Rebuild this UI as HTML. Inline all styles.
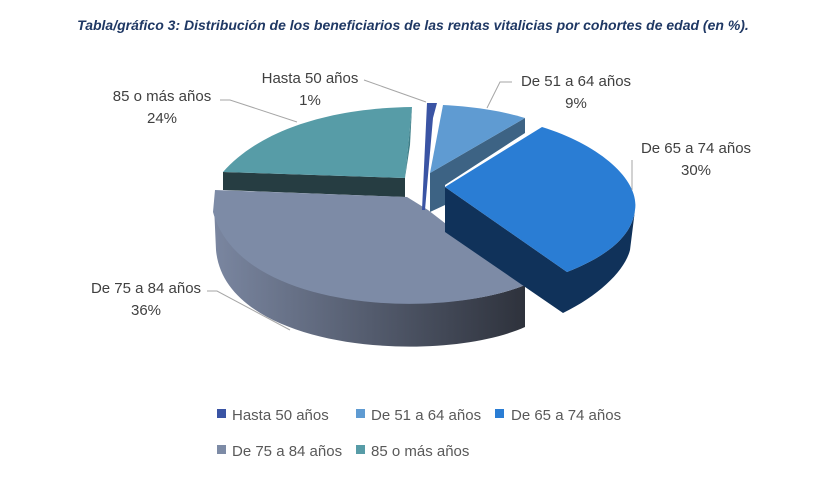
<!DOCTYPE html>
<html><head><meta charset="utf-8"><style>
body{margin:0;background:#fff}
svg text{font-family:"Liberation Sans",sans-serif}
</style></head><body>
<svg width="826" height="474" viewBox="0 0 826 474" xmlns="http://www.w3.org/2000/svg">
<defs>
<linearGradient id="g" x1="0" x2="1" y1="0" y2="0">
<stop offset="0" stop-color="#7a86a0"/><stop offset="1" stop-color="#2e323c"/></linearGradient>
</defs>
<text x="413" y="30" text-anchor="middle" font-size="14" font-style="italic" font-weight="bold" fill="#1f3864">Tabla/gráfico 3: Distribución de los beneficiarios de las rentas vitalicias por cohortes de edad (en %).</text>
<!-- teal -->
<path d="M223,172 L223,190 L405,197 L405,178 Z" fill="#263d42"/>
<path d="M405,178 L412,107 C330,108 260,130 223,172 Z" fill="#579ca7"/>
<path d="M405,178 L412,107 L410,145 Z" fill="#3f7f89"/>
<!-- grey -->
<path d="M214,205 C235,310 440,320 525,285 L525,327 C440,365 225,352 216,250 Z" fill="url(#g)"/>
<path d="M215,190 L407,197 L428,210 L525,285 C440,320 240,312 213,212 Z" fill="#7d8ba6"/>
<!-- light blue -->
<path d="M430,173 L525,118 L525,133 L445,185 L445,205 L430,212 Z" fill="#3d6384"/>
<path d="M430,173 L443,105 C480,107 505,112 525,118 Z" fill="#5f9bd2"/>
<!-- thin dark -->
<path d="M427,103 L437,103 L433,118 L425,210 L422,210 Z" fill="#3a54a4"/>
<!-- blue -->
<path d="M445,187 L445,232 L563,313 C600,295 625,270 630,250 L635,210 C632,235 610,255 567,272 Z" fill="#10325a"/>
<path d="M445,187 L542,127 C600,145 640,180 635,210 C632,235 610,255 567,272 Z" fill="#2a7dd4"/>
<!-- leaders -->
<g stroke="#a6a6a6" fill="none" stroke-width="1">
<path d="M364,80 L426,102"/>
<path d="M512,82 L500,82 L487,108"/>
<path d="M632,160 L632,190"/>
<path d="M220,100 L230,100 L297,122"/>
<path d="M207,291 L217,291 L290,330"/>
</g>
<g font-size="15" fill="#404040" text-anchor="middle">
<text x="310" y="83">Hasta 50 años</text><text x="310" y="105">1%</text>
<text x="576" y="86">De 51 a 64 años</text><text x="576" y="108">9%</text>
<text x="696" y="153">De 65 a 74 años</text><text x="696" y="175">30%</text>
<text x="162" y="101">85 o más años</text><text x="162" y="123">24%</text>
<text x="146" y="293">De 75 a 84 años</text><text x="146" y="315">36%</text>
</g>
<g font-size="15" fill="#595959">
<rect x="217" y="409" width="9" height="9" fill="#3a54a4"/><text x="232" y="420">Hasta 50 años</text>
<rect x="356" y="409" width="9" height="9" fill="#5f9bd2"/><text x="371" y="420">De 51 a 64 años</text>
<rect x="495" y="409" width="9" height="9" fill="#2a7dd4"/><text x="511" y="420">De 65 a 74 años</text>
<rect x="217" y="445" width="9" height="9" fill="#7d8ba6"/><text x="232" y="456">De 75 a 84 años</text>
<rect x="356" y="445" width="9" height="9" fill="#579ca7"/><text x="371" y="456">85 o más años</text>
</g>
</svg>
</body></html>
